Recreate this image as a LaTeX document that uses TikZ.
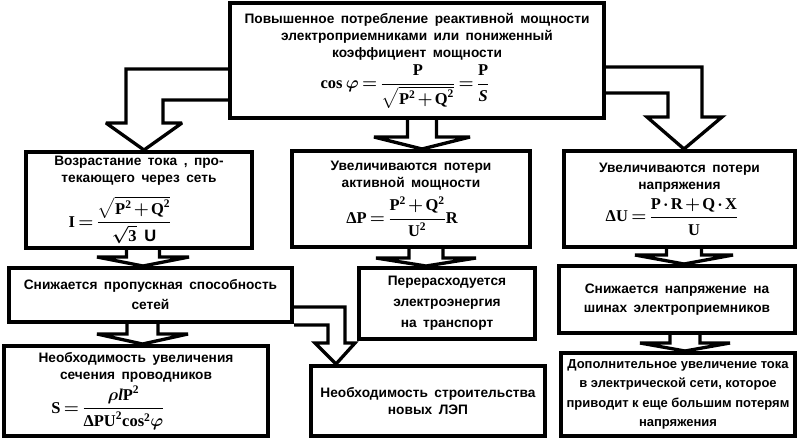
\documentclass[tikz,border=0pt]{standalone}
\usepackage{amsmath}
\usepackage{fontspec}
\setmainfont{Liberation Sans}[WordSpace=1.7]
\newfontfamily\tightfont{Liberation Sans}
\newfontfamily\fmla{Liberation Serif}
\usetikzlibrary{calc}
\newcommand\fm[1]{\text{\fmla\bfseries #1}}
\newcommand\fmi[1]{\text{\fmla\bfseries\itshape #1}}
\newcommand\fmsize{\fontsize{16.5}{19}\selectfont\medmuskip=2mu\thickmuskip=3mu}
% straight block arrow: from, to, centre x, shaft half width, head half width, head length
\newcommand\blkarrow[6]{%
  \draw[blockarrow] let \p1=(#1.south), \p2=(#2.north) in
    (#3pt-#4pt,\y1) -- (#3pt-#4pt,\y2+#6pt) -- (#3pt-#5pt,\y2+#6pt) -- (#3pt,\y2)
    -- (#3pt+#5pt,\y2+#6pt) -- (#3pt+#4pt,\y2+#6pt) -- (#3pt+#4pt,\y1);}

\begin{document}
\begin{tikzpicture}[
      x=1pt, y=-1pt,
      box/.style={draw, line width=4pt, inner sep=0pt, align=center,
        font=\bfseries\boldmath\fontsize{13.7}{17}\selectfont},
      blockarrow/.style={draw, line width=3.3pt, line join=miter, miter limit=3}
    ]
      \useasboundingbox (0,0) rectangle (800,440);

      \node[box, minimum width=374pt, minimum height=115pt] (top) at (417,60.5)
        {Повышенное потребление реактивной мощности\\
         электроприемниками или пониженный\\
         коэффициент мощности\\[4pt]
         \hspace*{-24pt}{\fmsize$\fm{cos}\,\varphi=\dfrac{\fm{P}}{\sqrt{\fm{P}^{\fm{2}}+\fm{Q}^{\fm{2}}}}=\dfrac{\fm{P}}{\fmi{S}}$}};

      % first row
      \node[box, minimum width=226pt, minimum height=96pt] (current) at (139,200)
        {Возрастание тока , про-\\текающего через сеть\\[10pt]
         \hspace*{-38pt}{\fmsize$\fm{I}=\dfrac{\sqrt{\fm{P}^{\fm{2}}+\fm{Q}^{\fm{2}}}}{\sqrt{\fm{3}}\ \text{U}}$}};
      \node[box, minimum width=238pt, minimum height=96pt] (ploss) at (411,199)
        {Увеличиваются потери\\активной мощности\\[5pt]
         \hspace*{-18pt}{\fmsize$\fm{ΔP}=\dfrac{\fm{P}^{\fm{2}}+\fm{Q}^{\fm{2}}}{\fm{U}^{\fm{2}}}\fm{R}$}};
      \node[box, minimum width=231pt, minimum height=96pt] (uloss) at (679.5,199)
        {Увеличиваются потери\\напряжения\\[5pt]
         \hspace*{-15pt}{\fmsize$\fm{ΔU}=\dfrac{\fm{P}\cdot\fm{R}+\fm{Q}\cdot\fm{X}}{\fm{U}}$}};

      % second row
      \node[box, minimum width=283pt, minimum height=54pt] (capacity) at (150.5,295)
        {Снижается пропускная способность\\[3pt]сетей};
      \node[box, minimum width=176pt, minimum height=71pt] (overuse) at (447,303.5)
        {Перерасходуется\\[4pt]электроэнергия\\[4pt]на транспорт};
      \node[box, minimum width=236pt, minimum height=67pt] (voltage) at (677,299.5)
        {Снижается напряжение на\\[2pt]шинах электроприемников};

      % third row
      \node[box, minimum width=264pt, minimum height=90pt] (section) at (136,391)
        {Необходимость увеличения\\сечения проводников\\[3pt]
         \hspace*{-56pt}{\fmsize$\fm{S}=\dfrac{\rho\fmi{l}\fm{P}^{\fm{2}}}{\fm{ΔPU}^{\fm{2}}\fm{cos}^{\fm{2}}\varphi}$}};
      \node[box, minimum width=234pt, minimum height=70pt] (newline) at (428,401)
        {Необходимость строительства\\новых ЛЭП};
      \node[box, minimum width=234pt, minimum height=83pt, font=\tightfont\bfseries\fontsize{13}{19.3}\selectfont] (extra) at (678,394.5)
        {Дополнительное увеличение тока\\в электрической сети, которое\\приводит к еще большим потерям\\напряжения};

      % big arrows from the top box
      \draw[blockarrow] (top.west |- 0,69) -- (126,69) -- (126,123) -- (106,123)
        -- (144,0 |- current.north) -- (182,123) -- (163,123) -- (163,100) -- (top.west |- 0,100);
      \blkarrow{top}{ploss}{422}{14.5}{48}{12}
      \draw[blockarrow] (top.east |- 0,67) -- (702,67) -- (702,117) -- (722,117)
        -- (684,0 |- uloss.north) -- (647,117) -- (668,117) -- (668,93) -- (top.east |- 0,93);

      % small arrows
      \blkarrow{current}{capacity}{143}{16.5}{46}{9}
      \blkarrow{ploss}{overuse}{426}{17}{50}{8}
      \blkarrow{uloss}{voltage}{684}{17.5}{49}{9}
      \blkarrow{capacity}{section}{142.5}{15.5}{45.5}{10}
      \blkarrow{voltage}{extra}{685}{15}{45}{8}
      \draw[blockarrow] (capacity.east |- 0,307) -- (345,307) -- (345,343) -- (355,343)
        -- (336,0 |- newline.north) -- (315,343) -- (328,343) -- (328,325) -- (capacity.east |- 0,325);

    \end{tikzpicture}
\end{document}
